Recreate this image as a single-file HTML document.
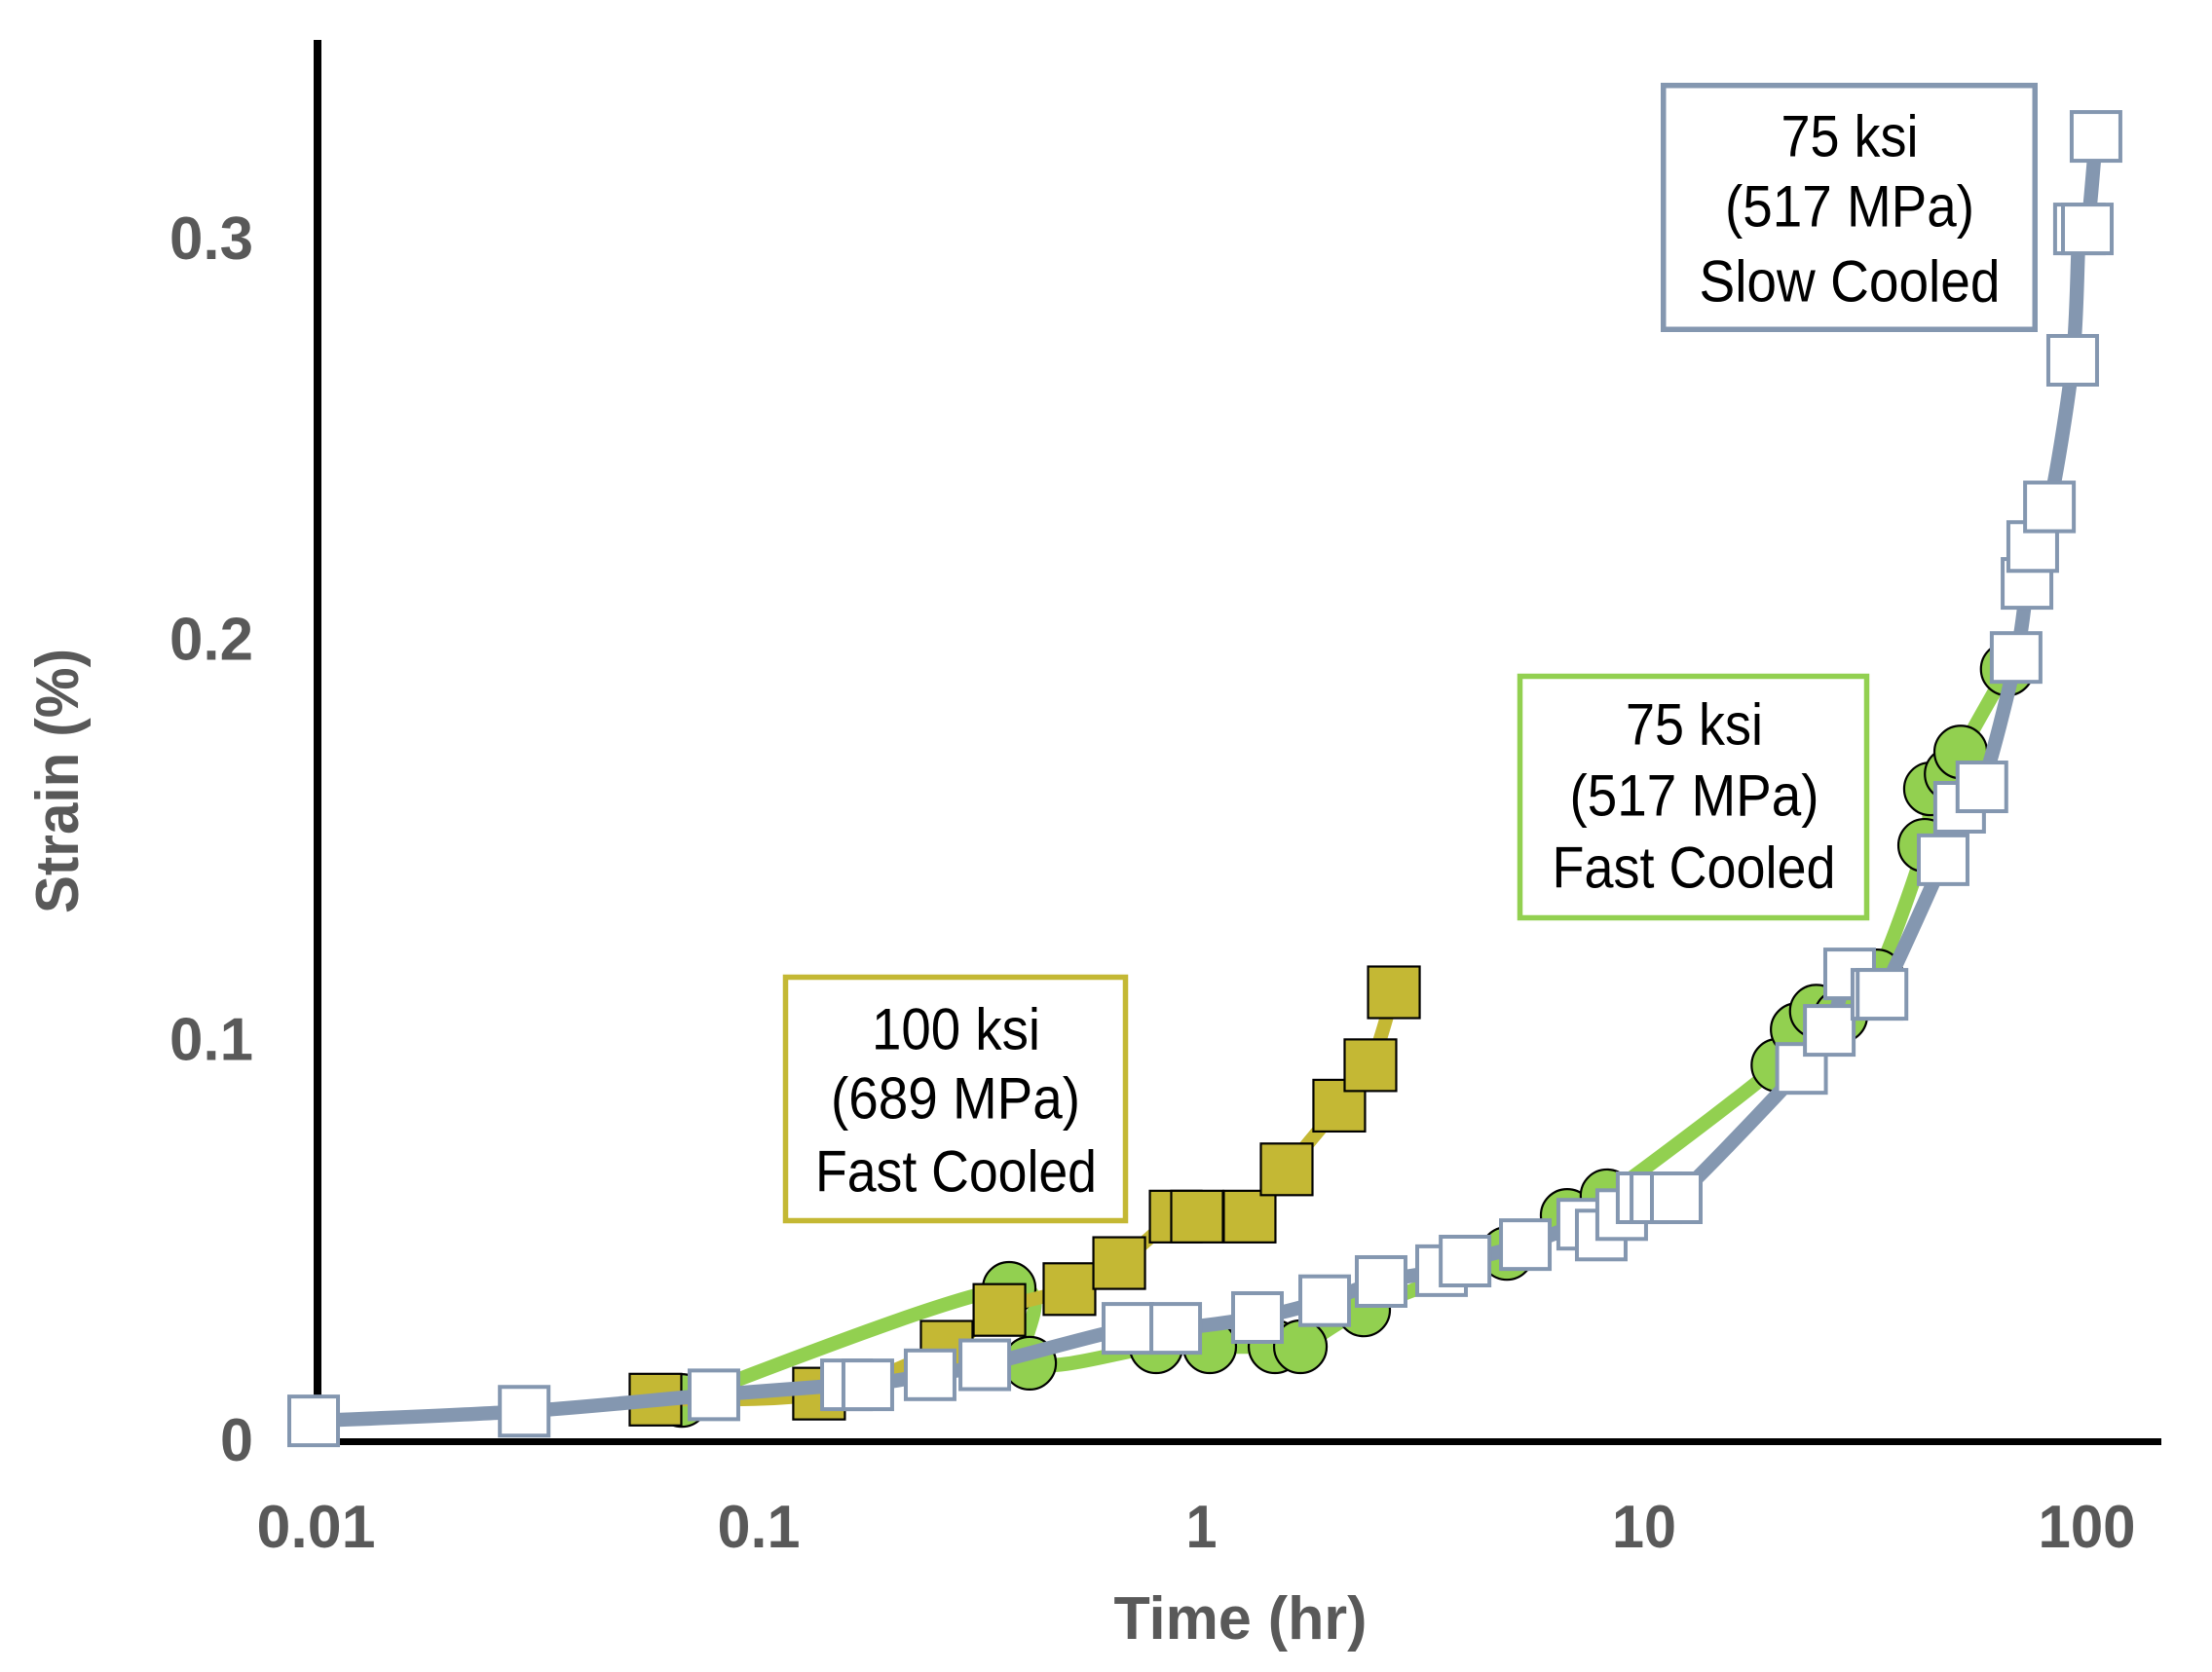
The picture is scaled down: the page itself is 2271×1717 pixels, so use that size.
<!DOCTYPE html>
<html lang="en">
<head>
<meta charset="utf-8">
<title>Strain vs Time</title>
<style>
html,body{margin:0;padding:0;background:#fff;width:2271px;height:1717px;overflow:hidden}
svg{display:block}
text{font-family:"Liberation Sans",sans-serif}
</style>
</head>
<body>
<svg id="chart" width="2271" height="1717" viewBox="0 0 2271 1717" xmlns="http://www.w3.org/2000/svg">
  <rect x="0" y="0" width="2271" height="1717" fill="#ffffff"/>
  <g id="axes"></g>
  <g id="series"></g>

  <g>
    <rect x="806.5" y="1003.5" width="349" height="250" fill="#ffffff" stroke="#C4B834" stroke-width="5.5"/>
    <text x="981.5" y="1077.5" font-size="60" fill="#000" text-anchor="middle" textLength="173" lengthAdjust="spacingAndGlyphs">100 ksi</text>
    <text x="981" y="1148.5" font-size="60" fill="#000" text-anchor="middle" textLength="256" lengthAdjust="spacingAndGlyphs">(689 MPa)</text>
    <text x="981.5" y="1223.5" font-size="60" fill="#000" text-anchor="middle" textLength="289" lengthAdjust="spacingAndGlyphs">Fast Cooled</text>
  </g>
  <g>
    <rect x="1560.5" y="694.5" width="356" height="248" fill="#ffffff" stroke="#92D050" stroke-width="5.5"/>
    <text x="1739.5" y="764.5" font-size="60" fill="#000" text-anchor="middle" textLength="141" lengthAdjust="spacingAndGlyphs">75 ksi</text>
    <text x="1739.5" y="837.5" font-size="60" fill="#000" text-anchor="middle" textLength="256" lengthAdjust="spacingAndGlyphs">(517 MPa)</text>
    <text x="1739" y="911.5" font-size="60" fill="#000" text-anchor="middle" textLength="291" lengthAdjust="spacingAndGlyphs">Fast Cooled</text>
  </g>
  <g>
    <rect x="1707.75" y="87.75" width="381.5" height="250.5" fill="#ffffff" stroke="#8497B0" stroke-width="5.5"/>
    <text x="1899" y="160.5" font-size="60" fill="#000" text-anchor="middle" textLength="141" lengthAdjust="spacingAndGlyphs">75 ksi</text>
    <text x="1899" y="232.5" font-size="60" fill="#000" text-anchor="middle" textLength="256" lengthAdjust="spacingAndGlyphs">(517 MPa)</text>
    <text x="1899" y="309.5" font-size="60" fill="#000" text-anchor="middle" textLength="309" lengthAdjust="spacingAndGlyphs">Slow Cooled</text>
  </g>

  <text x="1273.5" y="1683" font-size="62" font-weight="700" fill="#595959" text-anchor="middle" textLength="260" lengthAdjust="spacingAndGlyphs">Time (hr)</text>
  <text transform="translate(80 802) rotate(-90)" x="0" y="0" font-size="62" font-weight="700" fill="#595959" text-anchor="middle" textLength="272" lengthAdjust="spacingAndGlyphs">Strain (%)</text>
</svg>
<script>
// Tick values and printed labels
const xTickValues = [0.01, 0.1, 1, 10, 100];
const xTickLabels = ['0.01', '0.1', '1', '10', '100'];
const yTickValues = [0, 0.1, 0.2, 0.3];
const yTickLabels = ['0', '0.1', '0.2', '0.3'];

// 75 ksi (517 MPa) Fast Cooled
const fastCooled75Time = [0.0665, 0.365, 0.406, 0.784, 1.036, 1.455, 1.66, 2.307, 4.86, 6.65, 8.18, 19.9, 22.0, 24.3, 27.6, 33.3, 42.7, 44.0, 49.0, 51.5, 65.6];
const fastCooled75Strain = [0.0103, 0.0383, 0.0196, 0.0237, 0.0237, 0.0237, 0.0237, 0.0329, 0.0470, 0.0565, 0.0614, 0.0940, 0.1029, 0.1075, 0.1063, 0.1163, 0.1489, 0.1630, 0.1667, 0.1722, 0.1929];

// 100 ksi (689 MPa) Fast Cooled
const fastCooled100Time = [0.0580, 0.1358, 0.2638, 0.347, 0.4995, 0.647, 0.868, 0.970, 1.275, 1.546, 2.032, 2.39, 2.70];
const fastCooled100Strain = [0.0105, 0.0120, 0.0237, 0.0329, 0.0381, 0.0446, 0.0562, 0.0562, 0.0562, 0.0680, 0.0839, 0.0940, 0.1122];

// 75 ksi (517 MPa) Slow Cooled
const slowCooled75Time = [0.0098, 0.0293, 0.0786, 0.1566, 0.175, 0.242, 0.3216, 0.677, 0.868, 1.328, 1.884, 2.527, 3.46, 3.91, 5.35, 7.21, 7.94, 8.83, 9.82, 10.55, 11.73, 22.5, 26.0, 28.9, 33.3, 34.2, 47.0, 51.2, 57.5, 68.7, 72.7, 74.9, 81.7, 92.2, 95.5, 99.5, 104.1];
const slowCooled75Strain = [0.0052, 0.0076, 0.0117, 0.0142, 0.0142, 0.0167, 0.0192, 0.0283, 0.0283, 0.0310, 0.0352, 0.0400, 0.0427, 0.0451, 0.0492, 0.0543, 0.0516, 0.0567, 0.0609, 0.0609, 0.0609, 0.0932, 0.1027, 0.1168, 0.1117, 0.1117, 0.1453, 0.1584, 0.1635, 0.1958, 0.2143, 0.2235, 0.2334, 0.2700, 0.3028, 0.3028, 0.3259];

const SVG_NS = 'http://www.w3.org/2000/svg';
const X_ORIGIN = 326, X_DECADE = 454.5;
const Y_ORIGIN = 1480.5, Y_SCALE = 4113;
const COLOR_GREEN = '#92D050', COLOR_OLIVE = '#C4B834', COLOR_BLUE = '#8497B0', COLOR_TEXT = '#595959';

function xScale(t) { return X_ORIGIN + X_DECADE * (Math.log10(t) + 2); }
function yScale(v) { return Y_ORIGIN - v * Y_SCALE; }

function make(tag, attrs, parent) {
  const el = document.createElementNS(SVG_NS, tag);
  for (const k in attrs) el.setAttribute(k, attrs[k]);
  parent.appendChild(el);
  return el;
}

function smoothPath(pts) {
  let d = 'M' + pts[0][0].toFixed(1) + ' ' + pts[0][1].toFixed(1);
  for (let i = 0; i < pts.length - 1; i++) {
    const p0 = pts[Math.max(i - 1, 0)];
    const p1 = pts[i];
    const p2 = pts[i + 1];
    const p3 = pts[Math.min(i + 2, pts.length - 1)];
    const c1x = p1[0] + (p2[0] - p0[0]) / 6;
    const c1y = p1[1] + (p2[1] - p0[1]) / 6;
    const c2x = p2[0] - (p3[0] - p1[0]) / 6;
    const c2y = p2[1] - (p3[1] - p1[1]) / 6;
    d += 'C' + c1x.toFixed(1) + ' ' + c1y.toFixed(1) + ' ' + c2x.toFixed(1) + ' ' + c2y.toFixed(1) + ' ' + p2[0].toFixed(1) + ' ' + p2[1].toFixed(1);
  }
  return d;
}

const axesLayer = document.getElementById('axes');
const seriesLayer = document.getElementById('series');

const yAxisLine = make('line', { x1: X_ORIGIN, x2: X_ORIGIN, y1: 41, y2: Y_ORIGIN + 3.5, stroke: '#000', 'stroke-width': 8 }, axesLayer);



const xAxisLine = make('line', { x1: X_ORIGIN - 4, x2: 2219, y1: Y_ORIGIN, y2: Y_ORIGIN, stroke: '#000', 'stroke-width': 7 }, axesLayer);



function xLabelWidth(text) {
  if (text === '0.01') return 122;
  if (text === '0.1') return 85;
  if (text === '100') return 100;
  if (text === '10') return 66;
  return 32;
}

xTickValues.forEach(function (value, i) {
  const label = make('text', { x: xScale(value) - 1.5, y: 1589, 'font-size': 62, 'font-weight': 700, fill: COLOR_TEXT, 'text-anchor': 'middle', textLength: xLabelWidth(xTickLabels[i]), lengthAdjust: 'spacingAndGlyphs' }, axesLayer);
  label.textContent = xTickLabels[i];
  
  
});

yTickValues.forEach(function (value, i) {
  const label = make('text', { x: 260, y: yScale(value) + 19.5, 'font-size': 62, 'font-weight': 700, fill: COLOR_TEXT, 'text-anchor': 'end', textLength: yTickLabels[i].length === 1 ? 34 : 86, lengthAdjust: 'spacingAndGlyphs' }, axesLayer);
  label.textContent = yTickLabels[i];
  
  
});

function toPoints(times, strains) {
  return times.map(function (t, i) { return [xScale(t), yScale(strains[i])]; });
}

// 75 ksi fast cooled: green line with circles
const greenPoints = toPoints(fastCooled75Time, fastCooled75Strain);
const greenLine = make('path', { d: smoothPath(greenPoints), fill: 'none', stroke: COLOR_GREEN, 'stroke-width': 14.5 }, seriesLayer);


greenPoints.forEach(function (p) {
  const dot = make('circle', { cx: p[0], cy: p[1], r: 27, fill: COLOR_GREEN, stroke: '#000', 'stroke-width': 2.2 }, seriesLayer);
  
  
});

// 100 ksi fast cooled: olive line with squares
const olivePoints = toPoints(fastCooled100Time, fastCooled100Strain);
const oliveLine = make('path', { d: smoothPath(olivePoints), fill: 'none', stroke: COLOR_OLIVE, 'stroke-width': 14 }, seriesLayer);


olivePoints.forEach(function (p) {
  const box = make('rect', { x: p[0] - 26.5, y: p[1] - 26.5, width: 53, height: 53, fill: COLOR_OLIVE, stroke: '#000', 'stroke-width': 2.2 }, seriesLayer);
  
  
});

// 75 ksi slow cooled: blue line with white squares
const bluePoints = toPoints(slowCooled75Time, slowCooled75Strain);
const blueLine = make('path', { d: smoothPath(bluePoints), fill: 'none', stroke: COLOR_BLUE, 'stroke-width': 14.5 }, seriesLayer);


bluePoints.forEach(function (p) {
  const box = make('rect', { x: p[0] - 25, y: p[1] - 25, width: 50, height: 50, fill: '#ffffff', stroke: COLOR_BLUE, 'stroke-width': 4 }, seriesLayer);
  
  
});
</script>
</body>
</html>
